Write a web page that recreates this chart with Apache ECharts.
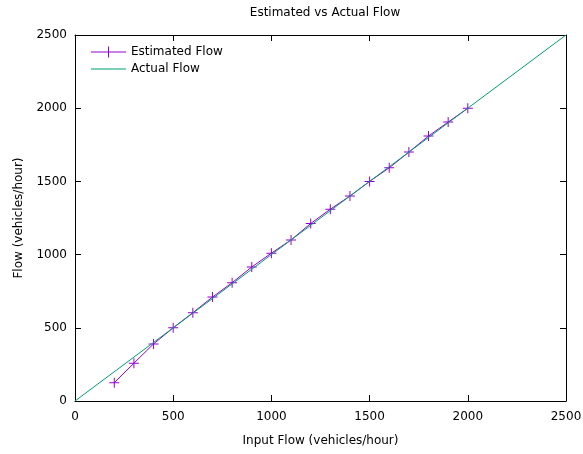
<!DOCTYPE html>
<html><head><meta charset="utf-8">
<script src="https://cdn.jsdelivr.net/npm/echarts@6/dist/echarts.min.js"></script>
<style>html,body{margin:0;padding:0;background:#fff}#c{width:583px;height:454px}</style>
</head><body><div id="c"></div>
<script>
const inputFlow = [200,300,400,500,600,700,800,900,1000,1100,1200,1300,1400,1500,1600,1700,1800,1900,2000];
const estimatedFlow = [125,258,390,500,603,710,808,915,1010,1100,1212,1310,1400,1500,1593,1700,1810,1905,2000];
const actualX = [0,2500];
const actualY = [0,2500];

const FONT = 'DejaVu Sans';
const chart = echarts.init(document.getElementById('c'), null, {renderer:'canvas'});
const plus = 'path://M4.5,0H5.5V4.5H10V5.5H5.5V10H4.5V5.5H0V4.5H4.5Z';
const baseAxis = {
  type:'value', min:0, max:2500, interval:500,
  axisLine:{show:true, onZero:false, lineStyle:{color:'#000', width:1}},
  axisTick:{show:true, inside:true, length:6, lineStyle:{color:'#000'}},
  splitLine:{show:false},
  axisLabel:{color:'#000', fontFamily:FONT, fontSize:12, formatter:v=>String(v)}
};
chart.setOption({
  animation:false,
  backgroundColor:'#fff',
  title:{text:'Estimated vs Actual Flow', left:320, top:2, textAlign:'center',
    textStyle:{fontFamily:FONT, fontSize:12, fontWeight:'normal', color:'#000'}},
  grid:{left:75, right:17, top:35, bottom:53, outerBoundsMode:'none', containLabel:false},
  legend:{orient:'vertical', left:86, top:41, itemWidth:35, itemHeight:14, itemGap:5,
    textStyle:{fontFamily:FONT, fontSize:12, color:'#000'},
    data:[
      {name:'Estimated Flow', icon:'path://M0,6.5H17V1.5H18V6.5H35V7.5H18V12.5H17V7.5H0Z'},
      {name:'Actual Flow', icon:'path://M0,0H35V1H0Z'}
    ]},
  xAxis:[
    Object.assign({}, baseAxis, {position:'bottom', name:'Input Flow (vehicles/hour)', nameLocation:'middle', nameGap:34,
      nameTextStyle:{fontFamily:FONT, fontSize:12, color:'#000'}, axisLabel:Object.assign({}, baseAxis.axisLabel, {margin:10})}),
    Object.assign({}, baseAxis, {position:'top', axisLabel:{show:false}})
  ],
  yAxis:[
    Object.assign({}, baseAxis, {position:'left', name:'Flow (vehicles/hour)', nameLocation:'middle', nameGap:50,
      nameTextStyle:{fontFamily:FONT, fontSize:12, color:'#000'}, axisLabel:Object.assign({}, baseAxis.axisLabel, {margin:8})}),
    Object.assign({}, baseAxis, {position:'right', axisLabel:{show:false}})
  ],
  series:[
    {name:'Estimated Flow', type:'line', xAxisIndex:0, yAxisIndex:0,
      data:inputFlow.map((x,i)=>[x, estimatedFlow[i]]),
      symbol:plus, symbolSize:10, showAllSymbol:true,
      lineStyle:{color:'#9400d3', width:1}, itemStyle:{color:'#9400d3'}, z:2},
    {name:'Actual Flow', type:'line', xAxisIndex:0, yAxisIndex:0,
      data:actualX.map((x,i)=>[x, actualY[i]]),
      symbol:'none', lineStyle:{color:'#009e73', width:1}, itemStyle:{color:'#009e73'}, z:3},
    {name:'_mirror', type:'line', xAxisIndex:1, yAxisIndex:1, data:[], symbol:'none', silent:true}
  ]
});
</script></body></html>
